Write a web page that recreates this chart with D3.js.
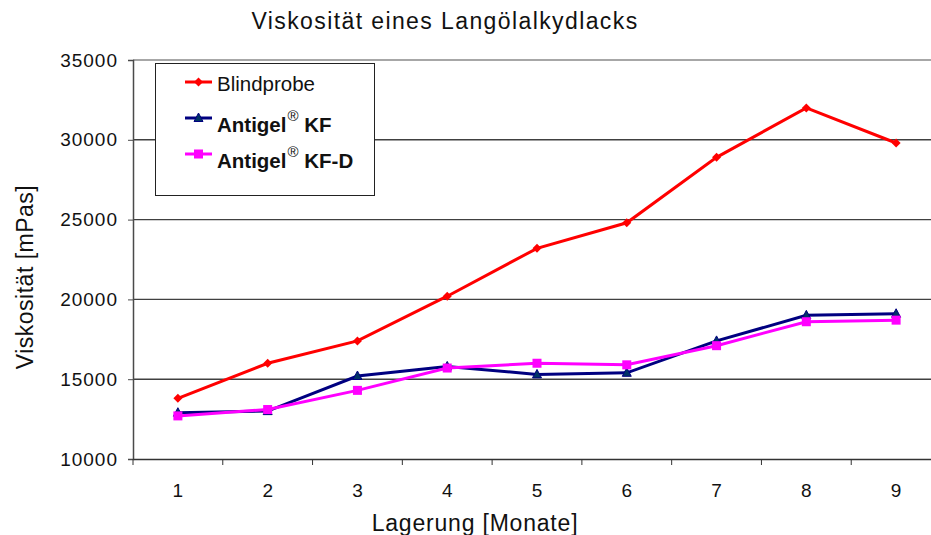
<!DOCTYPE html>
<html>
<head>
<meta charset="utf-8">
<script src="https://cdn.jsdelivr.net/npm/d3@7"></script>
<style>
  body { margin: 0; background: #fff; overflow: hidden; }
  svg { display: block; font-family: "Liberation Sans", Arial, sans-serif; }
</style>
</head>
<body>
<div id="chart"></div>
<script>
// months of storage
const months = [1, 2, 3, 4, 5, 6, 7, 8, 9];
// viscosity values [mPas]
const blindprobe = [13800, 16000, 17400, 20200, 23200, 24800, 28900, 32000, 29800];
const antigelKF = [12900, 13000, 15200, 15800, 15300, 15400, 17400, 19000, 19100];
const antigelKFD = [12700, 13100, 14300, 15700, 16000, 15900, 17100, 18600, 18700];
const yTicks = [10000, 15000, 20000, 25000, 30000, 35000];

const series = [
  { name: "Blindprobe", values: blindprobe, color: "#ff0000", marker: "diamond", bold: false },
  { name: "Antigel", sup: "®", suffix: " KF", values: antigelKF, color: "#000080", marker: "triangle", bold: true },
  { name: "Antigel", sup: "®", suffix: " KF-D", values: antigelKFD, color: "#ff00ff", marker: "square", bold: true },
];

const W = 931, H = 535;
const plot = { left: 133, right: 941, top: 60, bottom: 459 };

const svg = d3.select("#chart").append("svg").attr("width", W).attr("height", H);

const x = d3.scaleBand().domain(months).range([plot.left, plot.right]);
const y = d3.scaleLinear().domain([10000, 35000]).range([plot.bottom, plot.top]);

// gridlines
svg.selectAll(".grid")
  .data(yTicks.slice(1))
  .enter()
  .append("line")
  .attr("x1", plot.left).attr("x2", plot.right)
  .attr("y1", (d) => y(d)).attr("y2", (d) => y(d))
  .style("stroke", (d) => (d === 35000 ? "#8a8a8a" : "#404040"))
  .style("stroke-width", 1.4);

// y axis
const yAxis = svg.append("g")
  .attr("transform", `translate(${plot.left},0)`)
  .call(d3.axisLeft(y).tickValues(yTicks).tickSize(5).tickPadding(10).tickFormat(d3.format("d")));
yAxis.select(".domain").style("stroke", "#4a4a4a").style("stroke-width", 1.5);
yAxis.selectAll(".tick line").style("stroke", "#4a4a4a");
yAxis.selectAll("text")
  .style("font-size", "19px").style("letter-spacing", "1px").style("fill", "#111")
  .style("font-family", "Liberation Sans, Arial, sans-serif");

// x axis with ticks between categories
const xAxis = svg.append("g")
  .attr("transform", `translate(0,${plot.bottom})`)
  .call(d3.axisBottom(x).tickSize(0).tickPadding(24.5));
xAxis.select(".domain").style("stroke", "#333").style("stroke-width", 1.5);
xAxis.selectAll("text")
  .style("font-size", "19px").style("fill", "#111")
  .style("font-family", "Liberation Sans, Arial, sans-serif");
svg.selectAll(".xtick")
  .data(months)
  .enter()
  .append("line")
  .attr("x1", (d) => x(d)).attr("x2", (d) => x(d))
  .attr("y1", plot.bottom).attr("y2", plot.bottom + 6)
  .style("stroke", "#333");

// title and axis labels
svg.append("text")
  .attr("x", 445).attr("y", 29)
  .attr("text-anchor", "middle")
  .style("font-size", "23px").style("letter-spacing", "1.4px").style("fill", "#111")
  .text("Viskosität eines Langölalkydlacks");

svg.append("text")
  .attr("x", 475).attr("y", 531)
  .attr("text-anchor", "middle")
  .style("font-size", "23px").style("letter-spacing", "0.8px").style("fill", "#111")
  .text("Lagerung [Monate]");

svg.append("text")
  .attr("transform", "translate(33,277) rotate(-90)")
  .attr("text-anchor", "middle")
  .style("font-size", "23px").style("letter-spacing", "0.5px").style("fill", "#111")
  .text("Viskosität [mPas]");

// markers
function drawMarker(g, type, color, cx, cy) {
  if (type === "diamond") {
    g.append("path")
      .attr("d", `M${cx},${cy - 4.5}L${cx + 4.5},${cy}L${cx},${cy + 4.5}L${cx - 4.5},${cy}Z`)
      .attr("fill", color);
  } else if (type === "triangle") {
    g.append("path")
      .attr("d", `M${cx},${cy - 5}L${cx + 4.5},${cy + 3.5}L${cx - 4.5},${cy + 3.5}Z`)
      .attr("fill", "#003366").attr("stroke", color).attr("stroke-width", 1);
  } else {
    g.append("rect")
      .attr("x", cx - 4.5).attr("y", cy - 4.5).attr("width", 9).attr("height", 9)
      .attr("fill", color);
  }
}

const line = d3.line()
  .x((d, i) => x(months[i]) + x.bandwidth() / 2)
  .y((d) => y(d));

series.forEach((s) => {
  const g = svg.append("g");
  g.append("path")
    .datum(s.values)
    .attr("d", line)
    .attr("fill", "none")
    .attr("stroke", s.color)
    .attr("stroke-width", 3);
  s.values.forEach((v, i) => drawMarker(g, s.marker, s.color, x(months[i]) + x.bandwidth() / 2, y(v)));
});

// legend
const legend = svg.append("g");
legend.append("rect")
  .attr("x", 155.5).attr("y", 63.5).attr("width", 219).attr("height", 132)
  .attr("fill", "#fff").attr("stroke", "#222").attr("stroke-width", 1);

const legendY = [82, 118, 154];
const legendBase = [91, 132, 168];
series.forEach((s, i) => {
  const ly = legendY[i];
  legend.append("line")
    .attr("x1", 185).attr("x2", 212).attr("y1", ly).attr("y2", ly)
    .attr("stroke", s.color).attr("stroke-width", 3);
  drawMarker(legend, s.marker, s.color, 198.5, ly);
  const t = legend.append("text")
    .attr("x", 217).attr("y", legendBase[i])
    .style("font-size", "20.5px").style("fill", "#111")
    .style("font-weight", s.bold ? "bold" : "normal");
  t.append("tspan").text(s.name);
  if (s.sup) {
    t.append("tspan").attr("dy", -11).attr("dx", 1).style("font-size", "15px").style("font-weight", "normal").text(s.sup);
    t.append("tspan").attr("dy", 11).text(s.suffix);
  }
});
</script>
</body>
</html>
